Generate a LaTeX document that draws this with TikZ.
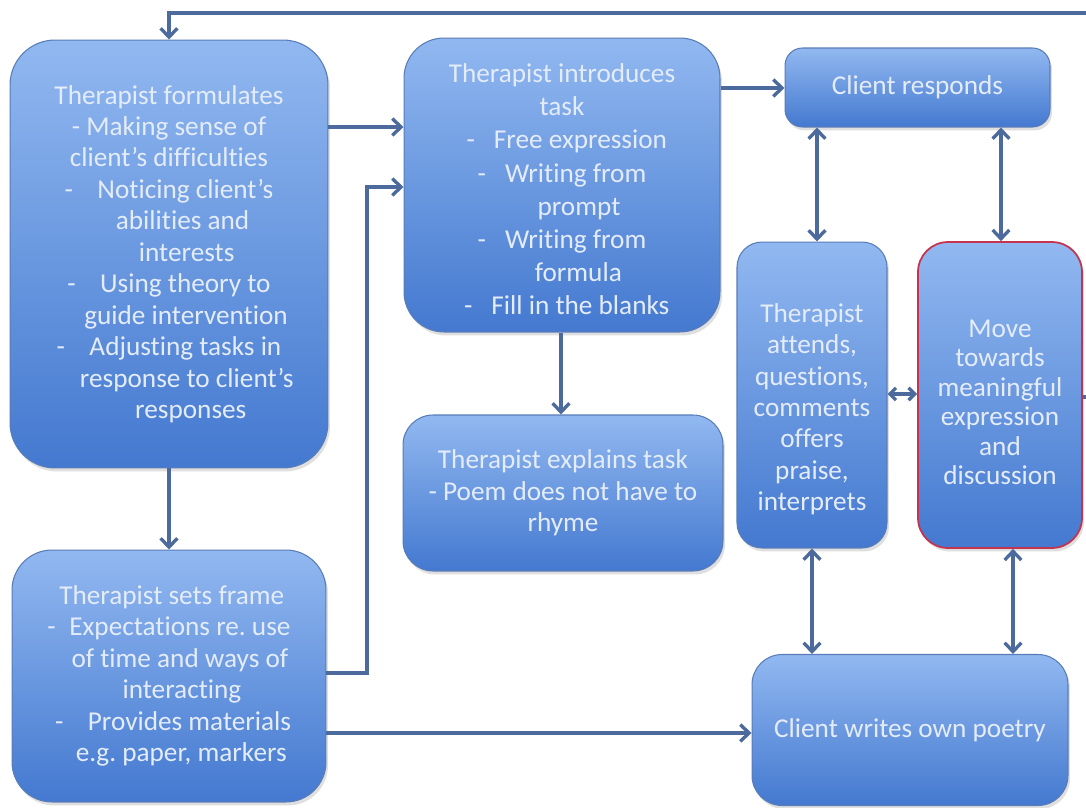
\documentclass[tikz,border=0pt]{standalone}
\usepackage{fontspec}
\setmainfont{Carlito}[Ligatures=NoCommon]
\usetikzlibrary{arrows.meta,shadows}

\definecolor{boxtop}{RGB}{145,184,240}
\definecolor{boxbot}{RGB}{68,121,208}
\definecolor{boxline}{RGB}{88,124,184}
\definecolor{linkcol}{RGB}{76,106,156}
\definecolor{txtcol}{RGB}{228,236,250}
\definecolor{redline}{RGB}{196,52,78}

% dash followed by a tab-like gap
\newcommand\dsh[1]{-\hspace{#1}}
% invisible strut that adds room above the first line
\newcommand\topgap[1]{\rule{0pt}{#1}}

\tikzset{
  box/.style={draw=boxline, line width=0.6pt, top color=boxtop, bottom color=boxbot,
    text=txtcol, align=center, inner sep=0pt,
    font=\fontsize{15.5}{17.9}\selectfont,
    drop shadow={opacity=0.25, shadow xshift=0.04cm, shadow yshift=-0.07cm}},
  link/.style={draw=linkcol, line width=1.9pt, -{Straight Barb[length=5pt,width=9.5pt]}},
  both/.style={draw=linkcol, line width=1.9pt,
    {Straight Barb[length=5pt,width=9.5pt]}-{Straight Barb[length=5pt,width=9.5pt]}},
  bothsmall/.style={draw=linkcol, line width=1.9pt,
    {Straight Barb[length=3.5pt,width=7pt]}-{Straight Barb[length=3.5pt,width=7pt]}},
  plain/.style={draw=linkcol, line width=1.9pt},
}

\begin{document}
\frenchspacing
\begin{tikzpicture}[x=0.02cm, y=-0.02cm]
\useasboundingbox[fill=white] (0,0) rectangle (1086,808);

% left column
\node[box, rounded corners=0.9cm, minimum width=6.36cm, minimum height=8.56cm] (A) at (169,254)
  {Therapist formulates\\
   - Making sense of\\
   client’s difficulties\\
   \dsh{0.9em}Noticing client’s\\
   \hspace*{1.0em}abilities and\\
   \hspace*{1.3em}interests\\
   \dsh{0.9em}Using theory to\\
   \hspace*{1.25em}guide intervention\\
   \dsh{0.9em}Adjusting tasks in\\
   \hspace*{1.3em}response to client’s\\
   \hspace*{1.6em}responses};

\node[box, rounded corners=0.8cm, minimum width=6.28cm, minimum height=5.04cm] (B) at (169,676)
  {\hspace*{0.2em}Therapist sets frame\\
   \dsh{0.5em}Expectations re. use\\
   \hspace*{0.8em}of time and ways of\\
   \hspace*{0.95em}interacting\\
   \hspace*{0.3em}\dsh{0.9em}Provides materials\\
   \hspace*{0.9em}e.g. paper, markers};

% middle column
\node[box, rounded corners=0.8cm, minimum width=6.32cm, minimum height=5.88cm,
      font=\fontsize{15.5}{18.8}\selectfont] (C) at (562,185)
  {\topgap{15.5pt}Therapist introduces\\
   task\\
   \hspace*{0.35em}\dsh{0.7em}Free expression\\
   \dsh{0.7em}Writing from\\
   \hspace*{1.25em}prompt\\
   \dsh{0.7em}Writing from\\
   \hspace*{1.2em}formula\\
   \hspace*{0.35em}\dsh{0.7em}Fill in the blanks};

\node[box, rounded corners=0.6cm, minimum width=6.4cm, minimum height=3.12cm] (D) at (563,493)
  {Therapist explains task\\
   - Poem does not have to\\
   rhyme};

% right column
\node[box, rounded corners=0.35cm, minimum width=5.3cm, minimum height=1.58cm] (E) at (917.5,87.5)
  {Client responds};

\node[box, rounded corners=0.5cm, minimum width=3.0cm, minimum height=6.12cm] (F) at (812,395)
  {\topgap{27pt}Therapist\\ attends,\\ questions,\\ comments\\ offers\\ praise,\\ interprets};

\node[box, draw=redline, line width=1pt, rounded corners=0.6cm,
      minimum width=3.28cm, minimum height=6.12cm,
      font=\fontsize{15.5}{16.8}\selectfont] (G) at (1000,395)
  {\topgap{18.4pt}Move\\ towards\\ meaningful\\ expression\\ and\\ discussion};

\node[box, rounded corners=0.6cm, minimum width=6.32cm, minimum height=3.02cm] (H) at (910,730)
  {Client writes own poetry};

% connectors
\coordinate (topR) at (1086,13);
\coordinate (bend) at (367,187);
\coordinate (rightR) at (1086,397);

\draw[link] (topR) -| (A.north);
\draw[link] (A.south) -- (B.north);
\draw[link] (A.east |- 0,127) -- (C.west |- 0,127);
\draw[link] (B.east |- 0,673) -| (bend) -- (C.west |- bend);
\draw[link] (B.east |- 0,733) -- (H.west |- 0,733);
\draw[link] (C.east |- 0,88) -- (E.west |- 0,88);
\draw[link] (C.south -| 561,0) -- (D.north -| 561,0);
\draw[both] (E.south -| 817,0) -- (F.north -| 817,0);
\draw[both] (E.south -| 1001,0) -- (G.north -| 1001,0);
\draw[bothsmall] (F.east |- 0,394) -- (G.west |- 0,394);
\draw[both] (F.south -| 812,0) -- (H.north -| 812,0);
\draw[both] (G.south -| 1013,0) -- (H.north -| 1013,0);
\draw[plain] (G.east |- rightR) -- (rightR);
\end{tikzpicture}
\end{document}
